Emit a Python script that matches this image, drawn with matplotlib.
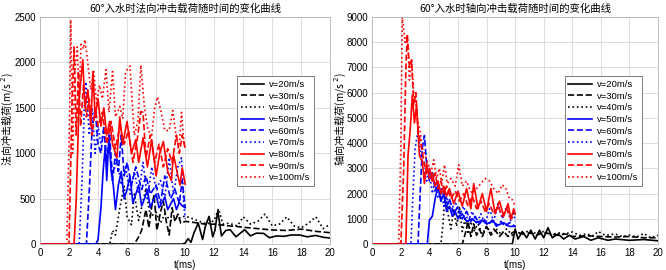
import matplotlib
matplotlib.use("Agg")
import matplotlib.pyplot as plt

plt.rcParams['font.family'] = ['Liberation Sans', 'Noto Sans CJK SC', 'DejaVu Sans']

etiquetas = ["v=20m/s", "v=30m/s", "v=40m/s", "v=50m/s", "v=60m/s",
             "v=70m/s", "v=80m/s", "v=90m/s", "v=100m/s"]

# ----法向冲击载荷 (左图) ----
n20_t = [0, 9.8, 10.0, 10.2, 10.4, 10.6, 10.9, 11.2, 11.4, 11.65, 11.9, 12.05, 12.25, 12.5, 12.8, 13.1,
         13.5, 13.8, 14.1, 14.5, 14.9, 15.4, 15.8, 16.3, 16.8, 17.3, 17.9, 18.4, 19.0, 19.5, 20.0]
n20_y = [0, 0, 10, 60, 20, 120, 232, 50, 200, 305, 80, 150, 368, 90, 150, 158,
         80, 120, 158, 90, 120, 118, 70, 90, 85, 100, 100, 80, 95, 75, 66]
n30_t = [0, 6.5, 6.8, 7.0, 7.3, 7.5, 7.7, 7.86, 8.05, 8.3, 8.5, 8.7, 8.9, 9.1, 9.3, 9.5, 9.7, 10.0,
         10.5, 11.0, 11.5, 12.0, 12.5, 13.0, 13.5, 14.0, 15.0, 16.0, 17.0, 18.0, 19.0, 20.0]
n30_y = [0, 0, 80, 150, 380, 180, 420, 545, 150, 350, 470, 250, 100, 400, 250, 330, 230, 250,
         240, 230, 215, 220, 210, 200, 195, 185, 170, 155, 150, 165, 140, 125]
n40_t = [0, 4.8, 5.0, 5.2, 5.5, 5.8, 6.0, 6.3, 6.5, 6.8, 7.0, 7.3, 7.6, 8.0, 8.3, 8.6, 9.0, 9.5, 10.0,
         10.5, 11.0, 11.5, 12.0, 12.3, 12.6, 13.0, 13.6, 14.0, 14.5, 15.0, 15.5, 16.0, 16.5, 17.0,
         17.5, 18.0, 18.5, 19.0, 19.5, 20.0]
n40_y = [0, 0, 150, 100, 400, 636, 300, 213, 550, 260, 400, 618, 300, 350, 230, 330, 260, 280, 310,
         280, 250, 220, 260, 390, 220, 230, 200, 300, 220, 250, 330, 200, 220, 300,
         200, 180, 230, 300, 170, 220]
n50_t = [0, 3.85, 4.0, 4.2, 4.35, 4.5, 4.6, 4.75, 4.9, 5.05, 5.2, 5.4, 5.6, 5.8, 6.0, 6.2, 6.4, 6.6,
         6.8, 7.0, 7.2, 7.4, 7.6, 7.8, 8.0, 8.2, 8.4, 8.6, 8.8, 9.0, 9.2, 9.4, 9.6, 9.8, 10.0]
n50_y = [0, 0, 50, 400, 800, 1080, 700, 1200, 800, 650, 380, 650, 800, 500, 600, 750, 450, 550,
         650, 420, 500, 600, 400, 480, 550, 400, 450, 520, 380, 440, 500, 380, 460, 420, 400]
n60_t = [0, 3.2, 3.4, 3.6, 3.8, 4.0, 4.2, 4.4, 4.6, 4.8, 5.0, 5.2, 5.4, 5.6, 5.8, 6.0, 6.3, 6.6,
         7.0, 7.3, 7.6, 8.0, 8.3, 8.6, 9.0, 9.3, 9.6, 9.8, 10.0]
n60_y = [0, 0, 600, 1300, 1490, 1100, 1000, 1300, 900, 1200, 700, 1000, 800, 1200, 750, 900, 650, 850,
         600, 750, 550, 650, 450, 750, 500, 600, 450, 700, 400]
n70_t = [0, 2.7, 2.9, 3.05, 3.17, 3.4, 3.6, 3.8, 4.0, 4.2, 4.4, 4.6, 4.8, 5.0, 5.3, 5.6, 5.9, 6.2,
         6.5, 6.8, 7.1, 7.4, 7.7, 8.0, 8.3, 8.6, 8.9, 9.2, 9.5, 9.75, 9.9, 10.0]
n70_y = [0, 0, 700, 1500, 1785, 1200, 1500, 1000, 1300, 1100, 1250, 900, 1100, 750, 950, 650, 850, 550,
         800, 550, 900, 500, 850, 600, 700, 500, 950, 550, 850, 950, 450, 280]
n80_t = [0, 2.35, 2.5, 2.7, 2.95, 3.1, 3.3, 3.5, 3.65, 3.8, 4.0, 4.2, 4.4, 4.6, 4.8, 5.0, 5.3, 5.5,
         5.7, 6.0, 6.3, 6.6, 6.8, 7.1, 7.4, 7.7, 8.0, 8.25, 8.5, 8.8, 9.05, 9.2, 9.5, 9.65, 9.8, 10.0]
n80_y = [0, 0, 500, 1600, 2030, 1500, 1700, 1300, 1900, 1400, 1600, 1300, 1500, 1200, 1350, 1100, 950, 1400,
         1100, 1350, 1000, 1150, 900, 1170, 850, 1150, 750, 1000, 1130, 800, 700, 985, 750, 650, 840, 660]
n90_t = [0, 2.0, 2.2, 2.35, 2.5, 2.65, 2.8, 3.0, 3.2, 3.4, 3.6, 3.8, 4.0, 4.3, 4.6, 4.9, 5.2, 5.5,
         5.8, 6.1, 6.4, 6.7, 6.95, 7.1, 7.3, 7.6, 7.9, 8.2, 8.5, 8.8, 9.1, 9.4, 9.6, 9.8, 10.0]
n90_y = [0, 0, 1500, 2170, 1200, 1900, 1300, 1750, 1400, 1600, 1200, 1500, 1300, 1450, 1100, 1350, 1050, 1300,
         1100, 1250, 900, 1150, 1460, 1450, 950, 1200, 900, 1100, 850, 1050, 900, 1200, 1000, 1200, 1050]
n100_t = [0, 1.85, 2.05, 2.12, 2.25, 2.4, 2.57, 2.7, 2.83, 3.0, 3.1, 3.26, 3.5, 3.7, 3.9, 4.1, 4.3,
          4.55, 4.75, 5.0, 5.2, 5.5, 5.7, 5.9, 6.2, 6.5, 6.75, 6.95, 7.2, 7.45, 7.7, 7.9, 8.1, 8.35,
          8.6, 8.9, 9.15, 9.4, 9.6, 9.75, 9.9, 10.0]
n100_y = [0, 0, 1500, 2470, 1000, 1900, 2170, 1600, 2200, 2150, 2250, 2040, 1700, 1900, 1550, 1750, 1600,
          1920, 1450, 1900, 1400, 1515, 1380, 1900, 1960, 1200, 1350, 1970, 1500, 1250, 1200, 1500, 1620, 1450,
          1250, 1250, 1470, 1150, 1100, 1450, 1150, 1050]

# ---- 轴向冲击载荷 (右图) ----
a20_t = [0, 9.8, 10.0, 10.2, 10.5, 10.8, 11.1, 11.4, 11.7, 12.0, 12.3, 12.6, 13.0, 13.4, 13.8,
         14.2, 14.8, 15.3, 15.8, 16.5, 17.0, 18.0, 19.0, 20.0]
a20_y = [0, 0, 600, 200, 500, 250, 550, 200, 550, 250, 650, 250, 400, 200, 350,
         200, 300, 150, 250, 150, 200, 150, 180, 130]
a30_t = [0, 6.3, 6.5, 6.7, 6.9, 7.1, 7.3, 7.5, 7.7, 8.0, 8.3, 8.6, 8.9, 9.2, 9.5, 9.8, 10.0,
         10.5, 11.0, 11.5, 12.0, 12.5, 13.0, 13.5, 14.0, 15.0, 16.0, 17.0, 18.0, 19.0, 20.0]
a30_y = [0, 0, 400, 900, 300, 800, 350, 600, 300, 700, 350, 550, 300, 500, 300, 450, 500,
         400, 450, 350, 450, 400, 350, 400, 300, 330, 300, 280, 300, 250, 250]
a40_t = [0, 4.8, 4.95, 5.1, 5.3, 5.5, 5.7, 5.9, 6.1, 6.3, 6.5, 6.7, 6.9, 7.1, 7.4, 7.7, 8.0, 8.3,
         8.6, 9.0, 9.4, 9.8, 10.0, 10.5, 11.0, 11.5, 12.0, 12.5, 13.0, 13.5, 14.0, 14.5, 15.0,
         15.5, 15.8, 16.3, 17.0, 17.5, 18.0, 18.5, 19.0, 19.5, 20.0]
a40_y = [0, 0, 800, 2100, 1200, 600, 1400, 700, 1500, 500, 1000, 400, 900, 500, 800, 400, 700, 450,
         650, 400, 600, 350, 500, 400, 550, 400, 500, 350, 450, 400, 480, 350, 400,
         330, 500, 350, 400, 300, 350, 280, 420, 250, 350]
a50_t = [0, 3.85, 4.0, 4.2, 4.4, 4.6, 4.8, 5.0, 5.2, 5.4, 5.6, 5.8, 6.0, 6.3, 6.6, 7.0, 7.3,
         7.7, 8.0, 8.4, 8.8, 9.2, 9.6, 10.0]
a50_y = [0, 0, 950, 1100, 1800, 2300, 1700, 2000, 1300, 1500, 1100, 1300, 1000, 1200, 900, 1000, 850,
         950, 800, 900, 750, 850, 700, 700]
a60_t = [0, 3.2, 3.35, 3.5, 3.65, 3.8, 4.0, 4.2, 4.4, 4.6, 4.8, 5.0, 5.2, 5.4, 5.7, 6.0, 6.3,
         6.6, 6.9, 7.2, 7.5, 7.8, 8.1, 8.4, 8.7, 9.0, 9.3, 9.6, 10.0]
a60_y = [0, 0, 2000, 3800, 4300, 3200, 2500, 2900, 2100, 2400, 1700, 2100, 1500, 1800, 1200, 1500, 1000,
         1300, 900, 1100, 800, 1000, 750, 950, 700, 900, 700, 850, 700]
a70_t = [0, 2.7, 2.85, 3.0, 3.2, 3.4, 3.6, 3.8, 4.0, 4.2, 4.4, 4.6, 4.8, 5.0, 5.2, 5.5, 5.8, 6.1,
         6.4, 6.7, 7.0, 7.3, 7.6, 7.9, 8.2, 8.5, 8.8, 9.1, 9.4, 9.7, 9.9, 10.0]
a70_y = [0, 0, 2000, 3800, 4500, 3500, 3000, 2500, 2900, 2000, 2500, 1800, 2200, 1500, 1900, 1300, 1700, 1100,
         1500, 900, 1300, 800, 1200, 800, 1400, 900, 1600, 1000, 1500, 900, 1300, 900]
a80_t = [0, 2.35, 2.5, 2.65, 2.8, 2.95, 3.1, 3.3, 3.5, 3.65, 3.8, 4.0, 4.2, 4.4, 4.6, 4.8, 5.0,
         5.2, 5.4, 5.7, 6.0, 6.3, 6.6, 6.9, 7.1, 7.4, 7.7, 8.0, 8.3, 8.6, 8.9, 9.2, 9.5, 9.7, 9.9, 10.0]
a80_y = [0, 0, 3500, 4500, 5900, 4800, 5500, 3500, 3300, 2400, 3200, 2600, 2800, 2300, 2500, 2000, 2300,
         1900, 2200, 1600, 2100, 1500, 2200, 1400, 2400, 1400, 2000, 1300, 2200, 1200, 1700, 1100, 1600, 1000, 1400, 1200]
a90_t = [0, 2.0, 2.2, 2.35, 2.45, 2.6, 2.75, 2.9, 3.05, 3.2, 3.4, 3.6, 3.8, 4.0, 4.2, 4.4, 4.6,
         4.8, 5.0, 5.2, 5.5, 5.8, 6.1, 6.4, 6.7, 7.0, 7.3, 7.6, 7.9, 8.2, 8.5, 8.8, 9.1, 9.4, 9.7, 10.0]
a90_y = [0, 0, 3000, 7000, 8300, 7000, 7300, 5500, 6000, 4500, 4000, 3300, 2800, 3000, 2500, 2800, 2200,
         2500, 2000, 2300, 1800, 2100, 1700, 2000, 1500, 1900, 1400, 1700, 1300, 1600, 1200, 1500, 1100, 1400, 1000, 1200]
a100_t = [0, 1.85, 2.0, 2.1, 2.2, 2.3, 2.45, 2.6, 2.75, 2.9, 3.05, 3.2, 3.35, 3.5, 3.7, 3.9, 4.1,
          4.3, 4.5, 4.7, 4.85, 5.05, 5.25, 5.5, 5.8, 6.05, 6.3, 6.6, 6.8, 7.0, 7.3, 7.6, 7.9, 8.2,
          8.5, 8.8, 9.1, 9.35, 9.6, 9.8, 10.0]
a100_y = [0, 0, 4000, 9000, 8500, 8000, 8300, 6500, 7300, 6000, 5500, 4800, 4500, 3800, 3500, 3200, 2800,
          3340, 2600, 3000, 2400, 3140, 2400, 2600, 2300, 3140, 2300, 2500, 2200, 2000, 2200, 2400, 2600, 2500,
          2200, 2000, 2350, 2200, 1800, 1760, 1500]

normal = [(n20_t, n20_y), (n30_t, n30_y), (n40_t, n40_y), (n50_t, n50_y), (n60_t, n60_y),
          (n70_t, n70_y), (n80_t, n80_y), (n90_t, n90_y), (n100_t, n100_y)]
axial = [(a20_t, a20_y), (a30_t, a30_y), (a40_t, a40_y), (a50_t, a50_y), (a60_t, a60_y),
         (a70_t, a70_y), (a80_t, a80_y), (a90_t, a90_y), (a100_t, a100_y)]

colores = ['black'] * 3 + ['#0000ff'] * 3 + ['#ff0000'] * 3
estilos = ['-', '--', ':'] * 3


def dibujar(ax, curvas, titulo, ylabel, ymax, ypaso, ylabel_x):
    for (t, y), c, ls, lab in zip(curvas, colores, estilos, etiquetas):
        ax.plot(t, y, color=c, ls=ls, lw=1.2, label=lab)
    ax.set_xlim(0, 20)
    ax.set_ylim(0, ymax)
    ax.set_xticks(range(0, 21, 2))
    ax.set_yticks(range(0, ymax + 1, ypaso))
    ax.grid(True, color='#dcdcdc', lw=0.7)
    ax.set_axisbelow(True)
    ax.tick_params(labelsize=7, length=0, pad=3)
    ax.set_title(titulo, fontsize=7.5, pad=4, family=['Noto Sans CJK SC', 'DejaVu Sans'])
    ax.set_xlabel("t(ms)", fontsize=7, labelpad=1)
    ax.set_ylabel(ylabel, fontsize=7.3, family=['Noto Sans CJK SC', 'DejaVu Sans'])
    ax.yaxis.set_label_coords(ylabel_x, 0.55)
    for s in ax.spines.values():
        s.set_linewidth(0.6)
        s.set_color('#b4b4b4')
    leg = ax.legend(loc='upper right', bbox_to_anchor=(0.96, 0.76), fontsize=6.8,
                    frameon=True, fancybox=False, edgecolor='#666666', framealpha=1,
                    handlelength=2.5, borderpad=0.4, labelspacing=0.28, handletextpad=0.5)
    leg.get_frame().set_linewidth(0.6)


fig = plt.figure(figsize=(6.66, 2.70), dpi=100)
ax1 = fig.add_axes([0.060, 0.096, 0.436, 0.841])
ax2 = fig.add_axes([0.559, 0.096, 0.429, 0.841])

dibujar(ax1, normal, "60°入水时法向冲击载荷随时间的变化曲线", "法向冲击载荷(m/s $^2$)", 2500, 500, -0.085)
dibujar(ax2, axial, "60°入水时轴向冲击载荷随时间的变化曲线", "轴向冲击载荷(m/s $^2$)", 9000, 1000, -0.084)

fig.savefig("out.png", dpi=100)
